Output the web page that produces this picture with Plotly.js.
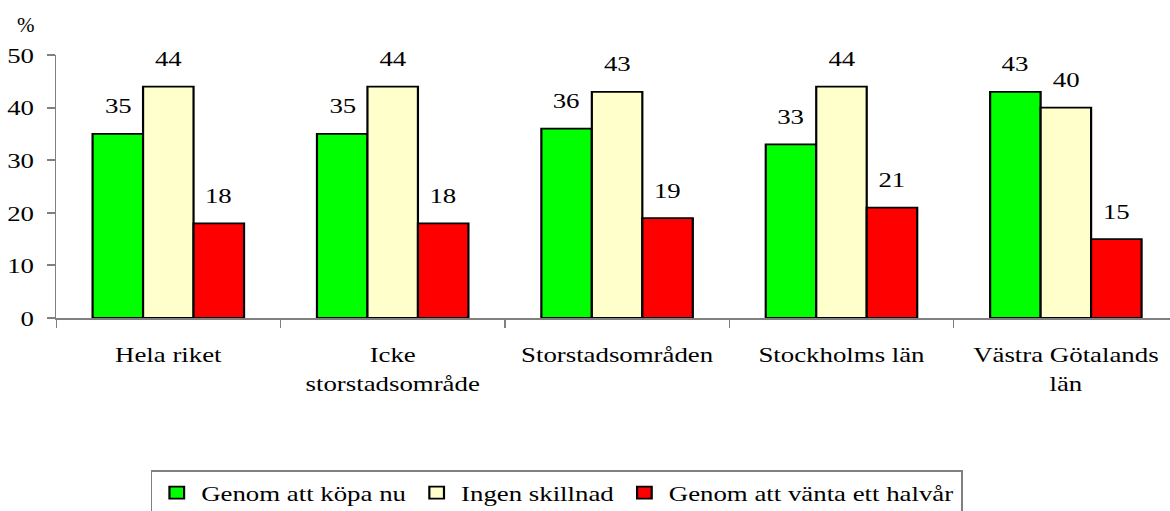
<!DOCTYPE html>
<html>
<head>
<meta charset="utf-8">
<script src="https://cdn.plot.ly/plotly-3.0.1.min.js"></script>
<style>
html, body { margin: 0; padding: 0; background: #fff; overflow: hidden; width: 1170px; height: 511px; position: relative; }
#chart { width: 959px; height: 511px; transform: scaleX(1.22); transform-origin: 0 0; }
#unit { position: absolute; left: 17px; top: 15px; font-family: 'Liberation Serif', 'Times New Roman', serif; font-size: 21px; line-height: 21px; color: #000; z-index: 5; }
svg text, svg tspan { font-family: 'Liberation Serif', 'Times New Roman', serif !important; }
</style>
</head>
<body>
<div id="unit">%</div>
<div id="chart"></div>
<script>
// Data
const categories = ["Hela riket", "Icke<br>storstadsområde", "Storstadsområden", "Stockholms län", "Västra Götalands<br>län"];
const seriesNames = ["Genom att köpa nu", "Ingen skillnad", "Genom att vänta ett halvår"];
const kopaNu = [35, 35, 36, 33, 43];
const ingenSkillnad = [44, 44, 43, 44, 40];
const vantaHalvar = [18, 18, 19, 21, 15];
const yTicks = [0, 10, 20, 30, 40, 50];

const seriesValues = [kopaNu, ingenSkillnad, vantaHalvar];
const colors = ["#00FF00", "#FFFFCC", "#FF0000"];
const FONT = "Liberation Serif";
const FS = 22;
const BARGAP = 0.325;
const barW = (1 - BARGAP) / seriesValues.length;

function build() {
  const traces = seriesValues.map((vals, j) => ({
    type: "bar",
    name: seriesNames[j],
    x: categories,
    y: vals,
    marker: { color: colors[j], line: { color: "#000", width: 1.8 } },
    hoverinfo: "skip"
  }));

  const annotations = [];
  seriesValues.forEach((vals, j) => {
    vals.forEach((v, i) => {
      annotations.push({
        xref: "x", yref: "y",
        x: i + (j - (seriesValues.length - 1) / 2) * barW,
        y: v,
        text: String(v),
        showarrow: false,
        xanchor: "center", yanchor: "middle",
        yshift: 28,
        font: { family: FONT, size: FS, color: "#000" }
      });
    });
  });

  const layout = {
    width: 959, height: 511,
    margin: { l: 46.3, r: 0, t: 55, b: 192.5, pad: 0, autoexpand: false },
    paper_bgcolor: "rgba(0,0,0,0)", plot_bgcolor: "rgba(0,0,0,0)",
    barmode: "group",
    bargap: BARGAP,
    bargroupgap: 0,
    showlegend: true,
    legend: {
      orientation: "h",
      x: 0.4495, xanchor: "center",
      y: -0.579, yanchor: "top",
      bordercolor: "#808080", borderwidth: 1.5,
      font: { family: FONT, size: FS, color: "#000" },
      traceorder: "normal"
    },
    xaxis: {
      type: "category",
      range: [-0.5, 4.464],
      showline: true, linecolor: "#808080", linewidth: 1.5,
      ticks: "outside", tickson: "boundaries", ticklen: 8, tickcolor: "#808080", tickwidth: 1.2,
      ticklabelstandoff: 16,
      showgrid: false, zeroline: false,
      tickfont: { family: FONT, size: FS, color: "#000" },
      fixedrange: true
    },
    yaxis: {
      range: [0, 50],
      tickvals: yTicks,
      showline: true, linecolor: "#808080", linewidth: 1.3,
      ticks: "outside", ticklen: 6.6, tickcolor: "#808080", tickwidth: 1.5,
      ticklabelstandoff: 6,
      showgrid: false, zeroline: false,
      tickfont: { family: FONT, size: FS, color: "#000" },
      fixedrange: true
    },
    annotations: annotations
  };
  return { traces, layout };
}

function forceFont() {
  document.querySelectorAll("#chart text").forEach(function (t) {
    t.style.setProperty("font-family", "'Liberation Serif', 'Times New Roman', serif", "important");
  });
}

function draw() {
  const b = build();
  return Plotly.newPlot("chart", b.traces, b.layout, { displayModeBar: false }).then(forceFont);
}
draw();
if (document.fonts && document.fonts.load) {
  document.fonts.load('22px "Liberation Serif"').then(draw).catch(function () {});
}
</script>
</body>
</html>
